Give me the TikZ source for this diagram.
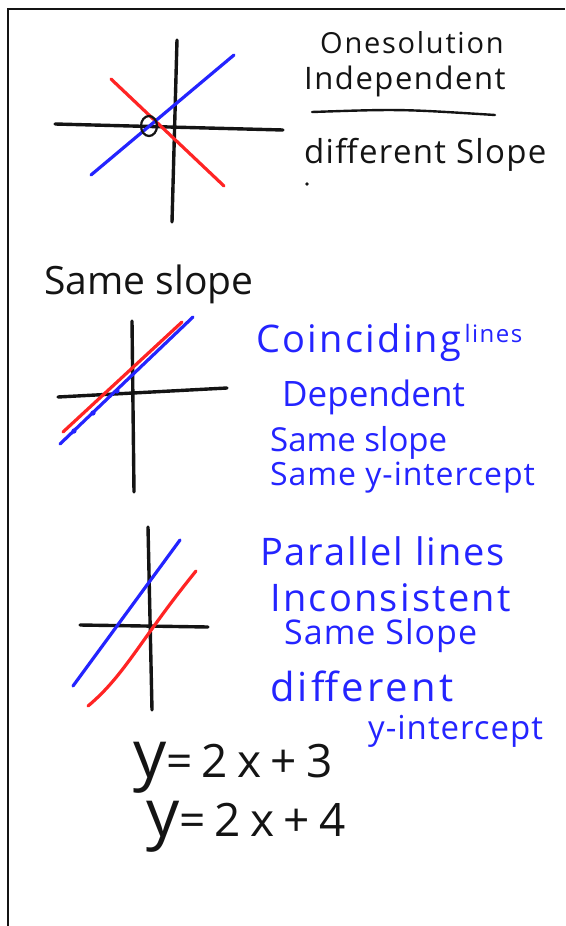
\documentclass[tikz,border=0pt]{standalone}
\usepackage{fontspec}
\setmainfont{Open Sans}
\usetikzlibrary{positioning,shapes.geometric}
\definecolor{penblue}{HTML}{2424FF}
\definecolor{penred}{HTML}{FF2424}
\definecolor{penblack}{HTML}{141414}
\tikzset{
  frameline/.style={draw=penblack,line width=2.6pt},
  axisline/.style={draw=penblack,line width=3.4pt,line cap=round},
  blueline/.style={draw=penblue,line width=3.2pt,line cap=round},
  redline/.style={draw=penred,line width=3.2pt,line cap=round},
  inknote/.style={text=penblack,inner sep=0pt,anchor=west},
  bluenote/.style={text=penblue,inner sep=0pt,anchor=west},
}
\newcommand{\pen}[1]{\fontsize{#1}{#1}\selectfont}
\newcommand{\spread}[1]{\addfontfeature{LetterSpace=#1}}

\begin{document}
\begin{tikzpicture}[x=1pt,y=-1pt]
    \useasboundingbox (0,0) rectangle (565,926);
    \draw[frameline] (8,926) -- (8,9) -- (565,9);
    % one solution
    \coordinate (ax1l) at (55,124); \coordinate (ax1r) at (283,130);
    \coordinate (ay1t) at (177,40); \coordinate (ay1b) at (172,222);
    \coordinate (r1a) at (111,79); \coordinate (r1b) at (224,186);
    \coordinate (b1a) at (91,175); \coordinate (b1b) at (234,55);
    \draw[axisline] (ax1l) -- (ax1r); \draw[axisline] (ay1t) -- (ay1b);
    \draw[redline] (r1a) -- (r1b); \draw[blueline] (b1a) -- (b1b);
    \node[draw=penblack,line width=2.2pt,ellipse,minimum width=16pt,minimum height=20pt,inner sep=0pt] (meet) at (149,126) {};
    \node[inknote,font=\pen{29}\spread{6}] (onesol) at (320,43) {Onesolution};
    \node[inknote,font=\pen{31}\spread{5}] (indep) at (304,81) {Independent};
    \coordinate (ul1) at (312,112); \coordinate (ul2) at (495,115);
    \draw[axisline,line width=2.4pt] (ul1) .. controls (400,109) .. (ul2);
    \node[inknote,font=\pen{33}\spread{4}] (diffslope) at (304,155) {different Slope};
    \fill[penblack] (307,184) circle (1.8pt);
    % coinciding lines
    \node[inknote,font=\pen{39}] (sameslope) at (44,284) {Same slope};
    \coordinate (ax2l) at (58,397); \coordinate (ax2r) at (227,388);
    \coordinate (ay2t) at (132,321); \coordinate (ay2b) at (134,492);
    \coordinate (r2a) at (63,432); \coordinate (r2b) at (182,322);
    \coordinate (b2a) at (60,444); \coordinate (b2b) at (193,317);
    \draw[axisline] (ax2l) -- (ax2r); \draw[axisline] (ay2t) -- (ay2b);
    \draw[redline] (r2a) -- (r2b); \draw[blueline] (b2a) -- (b2b);
    \foreach \dx/\dy in {74/431,93/413,117/391}
      \fill[penblue] (\dx,\dy) circle (2.6pt);
    \node[bluenote,font=\pen{38}\spread{6}] (coinc) at (256,343) {Coinciding};
    \node[bluenote,font=\pen{24}\spread{6},right=3pt of coinc.north east,anchor=north west] (lines1) {lines};
    \node[bluenote,font=\pen{35}] (dep) at (282,397) {Dependent};
    \node[bluenote,font=\pen{33}] (sslope) at (270,443) {Same slope};
    \node[bluenote,font=\pen{32}\spread{3}] (syint) at (270,478) {Same y-intercept};
    % parallel lines
    \coordinate (ax3l) at (80,625); \coordinate (ax3r) at (208,627);
    \coordinate (ay3t) at (148,527); \coordinate (ay3b) at (152,710);
    \coordinate (b3a) at (73,686); \coordinate (b3b) at (180,540);
    \coordinate (r3a) at (88,706); \coordinate (r3b) at (196,571);
    \draw[axisline] (ax3l) -- (ax3r); \draw[axisline] (ay3t) -- (ay3b);
    \draw[blueline] (b3a) -- (b3b);
    \draw[redline] (r3a) .. controls (125,675) and (140,640) .. (r3b);
    \node[bluenote,font=\pen{38}\spread{5}] (para) at (260,551) {Parallel lines};
    \node[bluenote,font=\pen{38}\spread{6}] (incons) at (270,598) {Inconsistent};
    \node[bluenote,font=\pen{34}\spread{3}] (sslope2) at (284,636) {Same Slope};
    \node[bluenote,font=\pen{40}\spread{8}] (diff2) at (270,686) {different};
    \node[bluenote,font=\pen{33}\spread{3}] (yint2) at (368,731) {y-intercept};
    \node[inknote,font=\pen{46}\spread{20}] (eq1) at (133,768) {{\pen{66}y}=2x+3};
    \node[inknote,font=\pen{46}\spread{20}] (eq2) at (146,827) {{\pen{66}y}=2x+4};
\end{tikzpicture}
\end{document}
